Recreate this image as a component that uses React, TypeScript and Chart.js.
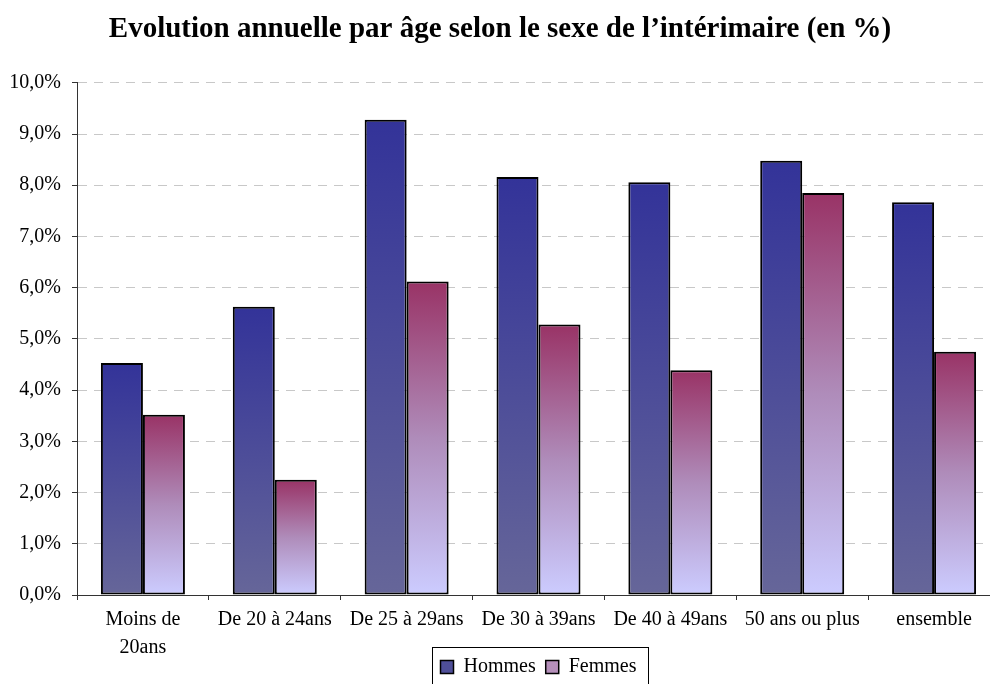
import React, { useEffect, useRef } from "react";
import { Chart, registerables } from "chart.js";

Chart.register(...registerables);

const categories: (string | string[])[] = [
  ["Moins de", "20ans"],
  "De 20 à 24ans",
  "De 25 à 29ans",
  "De 30 à 39ans",
  "De 40 à 49ans",
  "50 ans ou plus",
  "ensemble",
];
const hommes = [4.53, 5.63, 9.28, 8.16, 8.06, 8.48, 7.67];
const femmes = [3.52, 2.25, 6.12, 5.28, 4.39, 7.85, 4.75];
const seriesNames = ["Hommes", "Femmes"];
const titleText = "Evolution annuelle par âge selon le sexe de l’intérimaire (en %)";
const yMin = 0;
const yMax = 10;
const yStep = 1;

const FONT = "'Liberation Serif', 'Times New Roman', serif";

const hommesStops: [number, string][] = [
  [0, "#333399"],
  [1, "#666699"],
];
const femmesStops: [number, string][] = [
  [0, "#993366"],
  [0.5, "#AF8CBA"],
  [1, "#CCCCFF"],
];

function barGradient(stops: [number, string][], fallback: string) {
  return (ctx: any) => {
    const chart = ctx.chart;
    if (!chart.chartArea || ctx.type !== "data" || !chart.scales.y) return fallback;
    const y = chart.scales.y;
    const top = y.getPixelForValue(ctx.raw);
    const base = y.getPixelForValue(0);
    if (!isFinite(top) || !isFinite(base) || top === base) return fallback;
    const g = chart.ctx.createLinearGradient(0, top, 0, base);
    stops.forEach(([o, c]) => g.addColorStop(o, c));
    return g;
  };
}

const extendXLabelArea = {
  id: "extendXLabelArea",
  afterLayout(chart: any) {
    const x = chart.scales.x;
    if (x) x.bottom = x.top + 90;
  },
};

const legendBorder = {
  id: "legendBorder",
  afterDraw(chart: any) {
    const lg = chart.legend;
    if (!lg || !lg.legendHitBoxes || !lg.legendHitBoxes.length) return;
    const boxes = lg.legendHitBoxes;
    let l = Infinity, r = -Infinity;
    boxes.forEach((b: any) => {
      l = Math.min(l, b.left);
      r = Math.max(r, b.left + b.width);
    });
    const ctx = chart.ctx;
    ctx.save();
    ctx.strokeStyle = "#000";
    ctx.lineWidth = 1;
    ctx.strokeRect(Math.round(l - 9) + 0.5, Math.round(lg.top) + 0.5, Math.round(r - l + 20), Math.round(lg.height + 20));
    ctx.restore();
  },
};

export default function App() {
  const ref = useRef<HTMLCanvasElement | null>(null);
  useEffect(() => {
    if (!ref.current) return;
    const chart = new Chart(ref.current, {
      type: "bar",
      data: {
        labels: categories,
        datasets: [
          {
            label: seriesNames[0],
            data: hommes,
            backgroundColor: barGradient(hommesStops, "#4F4F99"),
            borderColor: "#000",
            borderWidth: 2,
            borderSkipped: false,
            barPercentage: 1,
            categoryPercentage: 0.637,
          },
          {
            label: seriesNames[1],
            data: femmes,
            backgroundColor: barGradient(femmesStops, "#B58FBA"),
            borderColor: "#000",
            borderWidth: 2,
            borderSkipped: false,
            barPercentage: 1,
            categoryPercentage: 0.637,
          },
        ],
      },
      plugins: [extendXLabelArea, legendBorder],
      options: {
        animation: false,
        responsive: true,
        maintainAspectRatio: false,
        layout: { padding: { left: 0, right: 20, top: 0, bottom: 0 } },
        plugins: {
          title: {
            display: true,
            text: titleText,
            color: "#000",
            font: { family: FONT, size: 29, weight: "bold", lineHeight: 1.2 },
            padding: { top: 12, bottom: 36 },
          },
          legend: {
            display: true,
            position: "bottom",
            fullSize: false,
            labels: {
              color: "#000",
              font: { family: FONT, size: 20 },
              boxWidth: 13,
              boxHeight: 13,
              padding: 10,
              generateLabels: () => [
                { text: seriesNames[0], fillStyle: "#4F4F99", strokeStyle: "#000", lineWidth: 1.5, datasetIndex: 0, hidden: false },
                { text: seriesNames[1], fillStyle: "#B58FBA", strokeStyle: "#000", lineWidth: 1.5, datasetIndex: 1, hidden: false },
              ],
            },
          },
          tooltip: { enabled: false },
        },
        scales: {
          x: {
            afterFit: (s: any) => {
              s.height = 52;
            },
            grid: {
              display: true,
              drawOnChartArea: false,
              drawTicks: true,
              tickLength: 5,
              tickColor: "#333",
              offset: true,
            },
            border: { display: true, color: "#333", width: 1 },
            ticks: {
              color: "#000",
              font: { family: FONT, size: 20, lineHeight: 1.4 },
              padding: 6,
              maxRotation: 0,
              autoSkip: false,
            },
          },
          y: {
            min: yMin,
            max: yMax,
            afterFit: (s: any) => {
              s.width = 77;
            },
            grid: {
              color: "#C8C8C8",
              lineWidth: 1,
              tickLength: 5,
              tickColor: "#333",
              tickBorderDash: [],
            },
            border: { display: true, color: "#333", width: 1, dash: [9, 7] },
            ticks: {
              stepSize: yStep,
              color: "#000",
              font: { family: FONT, size: 20 },
              padding: 11,
              callback: (v: any) => Number(v).toFixed(1).replace(".", ",") + "%",
            },
          },
        },
      },
    });
    return () => chart.destroy();
  }, []);
  return (
    <div style={{ position: "absolute", left: 0, top: 0, width: 990, height: 684, overflow: "hidden", background: "#fff" }}>
      <div style={{ position: "relative", width: 1020, height: 687 }}>
        <canvas ref={ref} />
      </div>
    </div>
  );
}
